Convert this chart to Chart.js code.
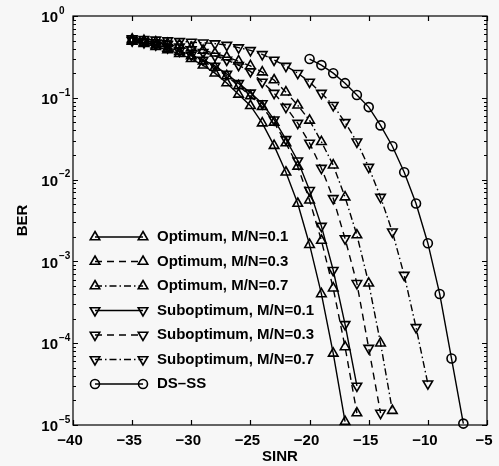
<!DOCTYPE html>
<html lang="en">
<head>
  <meta charset="UTF-8" />
  <title>BER vs SINR</title>
  <script src="https://cdn.jsdelivr.net/npm/chart.js"></script>
  <style>
    html, body { margin: 0; padding: 0; background: #f7f7f7; }
    #wrap { width: 499px; height: 466px; }
  </style>
</head>
<body>
  <div id="wrap"><canvas id="berChart" width="499" height="466"></canvas></div>

  <script>
    // SINR grid (dB) shared by the six optimum/suboptimum curves, DS-SS has its own
    const sinr = [-35, -34, -33, -32, -31, -30, -29, -28, -27, -26, -25, -24, -23, -22, -21,
                  -20, -19, -18, -17, -16, -15, -14, -13, -12, -11, -10];
    const sinrDsss = [-20, -19, -18, -17, -16, -15, -14, -13, -12, -11, -10, -9, -8, -7];

    // BER values
    const berOpt01 = [0.49, 0.46, 0.42, 0.385, 0.345, 0.3, 0.25, 0.2, 0.152, 0.11, 0.08, 0.049,
                      0.026, 0.0123, 0.0051, 0.0016, 4e-4, 7.5e-5, 1.1e-5];
    const berOpt03 = [0.5, 0.47, 0.44, 0.4, 0.365, 0.325, 0.28, 0.235, 0.185, 0.14, 0.105, 0.078,
                      0.05, 0.028, 0.0145, 0.0056, 0.0018, 4.7e-4, 9e-5, 1.4e-5];
    const berOpt07 = [0.52, 0.5, 0.48, 0.46, 0.44, 0.41, 0.38, 0.35, 0.315, 0.28, 0.245, 0.206,
                      0.165, 0.117, 0.081, 0.053, 0.029, 0.015, 0.0061, 0.0021, 5.4e-4, 1e-4, 1.5e-5];
    const berSub01 = [0.5, 0.475, 0.445, 0.41, 0.375, 0.335, 0.29, 0.245, 0.195, 0.15, 0.115, 0.085,
                      0.054, 0.031, 0.017, 0.0074, 0.0027, 7.8e-4, 1.7e-4, 3e-5];
    const berSub03 = [0.51, 0.49, 0.47, 0.45, 0.42, 0.39, 0.36, 0.325, 0.29, 0.25, 0.21, 0.156,
                      0.114, 0.077, 0.049, 0.028, 0.0138, 0.0059, 0.0019, 5.4e-4, 8.7e-5, 1.4e-5];
    const berSub07 = [0.53, 0.52, 0.51, 0.5, 0.49, 0.48, 0.47, 0.46, 0.44, 0.41, 0.38, 0.34,
                      0.29, 0.244, 0.2, 0.156, 0.114, 0.081, 0.05, 0.029, 0.0142, 0.0061, 0.0023,
                      6.8e-4, 1.56e-4, 3.2e-5];
    const berDsss = [0.298, 0.251, 0.2, 0.151, 0.108, 0.077, 0.046, 0.0256, 0.0123, 0.0051,
                     0.00167, 4e-4, 6.5e-5, 1.04e-5];

    const seriesNames = ['Optimum, M/N=0.1', 'Optimum, M/N=0.3', 'Optimum, M/N=0.7',
                         'Suboptimum, M/N=0.1', 'Suboptimum, M/N=0.3', 'Suboptimum, M/N=0.7', 'DS\u2013SS'];

    const xTicks = [-40, -35, -30, -25, -20, -15, -10, -5];
    const xTickLabels = ['\u221240', '\u221235', '\u221230', '\u221225', '\u221220', '\u221215', '\u221210', '\u22125'];
    const yTicks = [1, 1e-1, 1e-2, 1e-3, 1e-4, 1e-5];
    const yTickExps = ['0', '\u22121', '\u22122', '\u22123', '\u22124', '\u22125'];

    const FONT = '"Liberation Sans", Arial, sans-serif';
    const SOLID = [], DASH = [7, 5], DASHDOT = [7, 3, 1.5, 3];

    function toPoints(xs, ys) {
      return ys.map((y, i) => ({ x: xs[i], y: y }));
    }

    function series(label, xs, ys, dash, style, rot, radius) {
      return {
        label: label,
        data: toPoints(xs, ys),
        borderColor: '#000',
        borderWidth: 1.4,
        borderDash: dash,
        pointStyle: style,
        pointRotation: rot,
        pointRadius: radius,
        pointBorderWidth: 1.6,
        pointBorderColor: '#000',
        pointBackgroundColor: 'rgba(0,0,0,0)',
        tension: 0,
        clip: false
      };
    }

    const datasets = [
      series(seriesNames[0], sinr, berOpt01, SOLID, 'triangle', 0, 5.5),
      series(seriesNames[1], sinr, berOpt03, DASH, 'triangle', 0, 5.5),
      series(seriesNames[2], sinr, berOpt07, DASHDOT, 'triangle', 0, 5.5),
      series(seriesNames[3], sinr, berSub01, SOLID, 'triangle', 180, 5.5),
      series(seriesNames[4], sinr, berSub03, DASH, 'triangle', 180, 5.5),
      series(seriesNames[5], sinr, berSub07, DASHDOT, 'triangle', 180, 5.5),
      series(seriesNames[6], sinrDsss, berDsss, SOLID, 'circle', 0, 4.5)
    ];

    // matlab-ish frame: box, inward ticks, labels, legend
    const framePlugin = {
      id: 'frame',
      beforeDraw(chart) {
        const ctx = chart.ctx;
        ctx.save();
        ctx.fillStyle = '#f7f7f7';
        ctx.fillRect(0, 0, chart.width, chart.height);
        ctx.restore();
      },
      afterDraw(chart) {
        const ctx = chart.ctx;
        const a = chart.chartArea;
        const xs = chart.scales.x, ys = chart.scales.y;
        ctx.save();
        ctx.strokeStyle = '#000';
        ctx.fillStyle = '#000';
        ctx.lineWidth = 1.2;
        ctx.setLineDash([]);
        ctx.strokeRect(a.left, a.top, a.right - a.left, a.bottom - a.top);

        ctx.beginPath();
        xTicks.forEach(v => {
          const px = Math.round(xs.getPixelForValue(v)) + 0.5;
          ctx.moveTo(px, a.bottom); ctx.lineTo(px, a.bottom - 5);
          ctx.moveTo(px, a.top); ctx.lineTo(px, a.top + 5);
        });
        for (let d = -5; d <= 0; d++) {
          for (let m = 1; m <= 9; m++) {
            const v = m * Math.pow(10, d);
            if (v > 1) break;
            const py = Math.round(ys.getPixelForValue(v)) + 0.5;
            const len = m === 1 ? 5 : 3;
            ctx.moveTo(a.left, py); ctx.lineTo(a.left + len, py);
            ctx.moveTo(a.right, py); ctx.lineTo(a.right - len, py);
          }
        }
        ctx.stroke();

        // x tick labels
        ctx.font = 'bold 15px ' + FONT;
        ctx.textAlign = 'center';
        ctx.textBaseline = 'middle';
        xTicks.forEach((v, i) => {
          ctx.fillText(xTickLabels[i], xs.getPixelForValue(v) - 3, a.bottom + 16);
        });

        // y tick labels 10^k
        yTicks.forEach((v, i) => {
          const py = ys.getPixelForValue(v);
          ctx.font = 'bold 15px ' + FONT;
          ctx.textAlign = 'right';
          ctx.fillText('10', 58, py + 2);
          ctx.font = 'bold 10px ' + FONT;
          ctx.textAlign = 'left';
          ctx.fillText(yTickExps[i], 59, py - 5);
        });

        // axis titles
        ctx.font = 'bold 15px ' + FONT;
        ctx.textAlign = 'center';
        ctx.fillText('SINR', (a.left + a.right) / 2, 457);
        ctx.save();
        ctx.translate(23, (a.top + a.bottom) / 2);
        ctx.rotate(-Math.PI / 2);
        ctx.fillText('BER', 0, 0);
        ctx.restore();

        // legend
        const x0 = 95, x1 = 143, rowY = 237, rowH = 24.5;
        chart.data.datasets.forEach((ds, i) => {
          const y = rowY + i * rowH;
          ctx.lineWidth = ds.borderWidth;
          ctx.setLineDash(ds.borderDash);
          ctx.beginPath();
          ctx.moveTo(x0, y); ctx.lineTo(x1, y);
          ctx.stroke();
          ctx.setLineDash([]);
          ctx.lineWidth = ds.pointBorderWidth;
          ctx.fillStyle = 'rgba(0,0,0,0)';
          [x0, x1].forEach(px => {
            Chart.helpers.drawPoint(ctx, {
              pointStyle: ds.pointStyle, rotation: ds.pointRotation,
              radius: ds.pointRadius, borderWidth: ds.pointBorderWidth
            }, px, y);
          });
          ctx.fillStyle = '#000';
          ctx.font = 'bold 15px ' + FONT;
          ctx.textAlign = 'left';
          ctx.fillText(ds.label, 157, y);
        });
        ctx.restore();
      }
    };

    new Chart(document.getElementById('berChart').getContext('2d'), {
      type: 'line',
      data: { datasets: datasets },
      options: {
        responsive: false,
        animation: false,
        layout: { padding: { left: 73, right: 12, top: 16, bottom: 41 } },
        plugins: { legend: { display: false }, tooltip: { enabled: false } },
        scales: {
          x: { type: 'linear', min: -40, max: -5, display: false },
          y: { type: 'logarithmic', min: 1e-5, max: 1, display: false }
        }
      },
      plugins: [framePlugin]
    });
  </script>
</body>
</html>
